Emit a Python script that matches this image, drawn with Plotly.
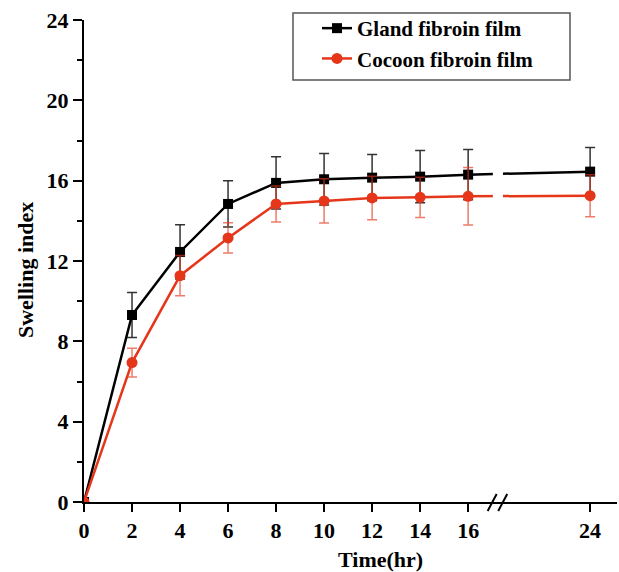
import plotly.graph_objects as go

# ---- data ----
hours = [0, 2, 4, 6, 8, 10, 12, 14, 16, 24]
gland = [0, 9.31, 12.45, 14.84, 15.89, 16.07, 16.15, 16.20, 16.30, 16.45]
gland_err = [0, 1.12, 1.35, 1.15, 1.30, 1.28, 1.15, 1.30, 1.25, 1.20]
cocoon = [0, 6.94, 11.27, 13.15, 14.84, 14.99, 15.14, 15.17, 15.22, 15.25]
cocoon_err = [0, 0.71, 1.00, 0.75, 0.90, 1.10, 1.08, 1.00, 1.43, 1.05]
tick_hours = [0, 2, 4, 6, 8, 10, 12, 14, 16, 24]
tick_labels = [str(h) for h in tick_hours]

# broken axis: hours beyond 16 are compressed
BREAK_START = 16
COMPRESS = 0.635
BREAK_POS = 17.25
X_MAX = 22.2


def to_axis(h):
    return h if h <= BREAK_START else BREAK_START + (h - BREAK_START) * COMPRESS


xs = [to_axis(h) for h in hours]
tickpos = [to_axis(h) for h in tick_hours]

BLACK = "#000000"
RED = "#E5361A"
FONT = "Liberation Serif"

fig = go.Figure()
fig.add_trace(go.Scatter(
    x=xs, y=gland, mode="lines+markers", name="Gland fibroin film",
    line=dict(color=BLACK, width=2.5),
    marker=dict(symbol="square", size=10, color=BLACK),
    error_y=dict(type="data", array=gland_err, color="rgba(0,0,0,0.8)", thickness=1.5, width=5),
))
fig.add_trace(go.Scatter(
    x=xs, y=cocoon, mode="lines+markers", name="Cocoon fibroin film",
    line=dict(color=RED, width=2.5),
    marker=dict(symbol="circle", size=11, color=RED),
    error_y=dict(type="data", array=cocoon_err, color="rgba(229,54,26,0.65)", thickness=1.5, width=5),
))

# gap in the lines at the axis break
fig.add_shape(type="rect", xref="x", yref="y", x0=BREAK_POS - 0.22, x1=BREAK_POS + 0.2,
              y0=13.5, y1=18.5, fillcolor="white", line=dict(width=0), layer="above")

# "//" break marks on the x axis (paper coords)
W = 617 - 84
H = 502 - 20


def px(xa):
    return xa / X_MAX


for dx in (-0.25, 0.19):
    xc = px(BREAK_POS + dx)
    fig.add_shape(type="line", xref="paper", yref="paper",
                  x0=xc - 4.5 / W, x1=xc + 4.5 / W, y0=-9 / H, y1=8 / H,
                  line=dict(color=BLACK, width=2))

# legend border box
fig.add_shape(type="rect", xref="paper", yref="paper",
              x0=(293 - 84) / W, x1=(570 - 84) / W, y0=1 - (80 - 20) / H, y1=1 + 7 / H,
              line=dict(color="#555555", width=1.5), fillcolor="rgba(0,0,0,0)")

fig.add_annotation(text="Time(hr)", xref="paper", yref="paper",
                   x=(380 - 84) / W, y=-(559 - 502) / H, showarrow=False,
                   xanchor="center", yanchor="middle",
                   font=dict(family=FONT, size=22, color=BLACK, weight="bold"))
fig.add_annotation(text="Swelling index", xref="paper", yref="paper",
                   x=-(84 - 25) / W, y=1 - (270 - 20) / H, showarrow=False, textangle=-90,
                   xanchor="center", yanchor="middle",
                   font=dict(family=FONT, size=22, color=BLACK, weight="bold"))

fig.update_layout(
    width=619, height=572,
    margin=dict(l=84, r=2, t=20, b=70),
    plot_bgcolor="white", paper_bgcolor="white",
    font=dict(family=FONT, size=22, color=BLACK, weight="bold"),
    showlegend=True,
    legend=dict(x=(317 - 84) / W, y=1 + 12 / H, xanchor="left", yanchor="top",
                bgcolor="rgba(0,0,0,0)", borderwidth=0,
                font=dict(family=FONT, size=21, color=BLACK, weight="bold"),
                itemwidth=30, tracegroupgap=0),
    xaxis=dict(range=[0, X_MAX], tickvals=tickpos, ticktext=tick_labels,
               showgrid=False, zeroline=False, showline=True, linecolor=BLACK, linewidth=2,
               ticks="outside", ticklen=8, tickwidth=2, tickcolor=BLACK,
               tickfont=dict(family=FONT, size=22, color=BLACK, weight="bold")),
    yaxis=dict(range=[0, 24], dtick=4, tick0=0,
               showgrid=False, zeroline=False, showline=True, linecolor=BLACK, linewidth=2,
               ticks="outside", ticklen=9, tickwidth=2, tickcolor=BLACK,
               minor=dict(ticks="outside", dtick=2, ticklen=5, tickwidth=2, tickcolor=BLACK, showgrid=False),
               tickfont=dict(family=FONT, size=22, color=BLACK, weight="bold")),
)

fig.write_html("out.html")
